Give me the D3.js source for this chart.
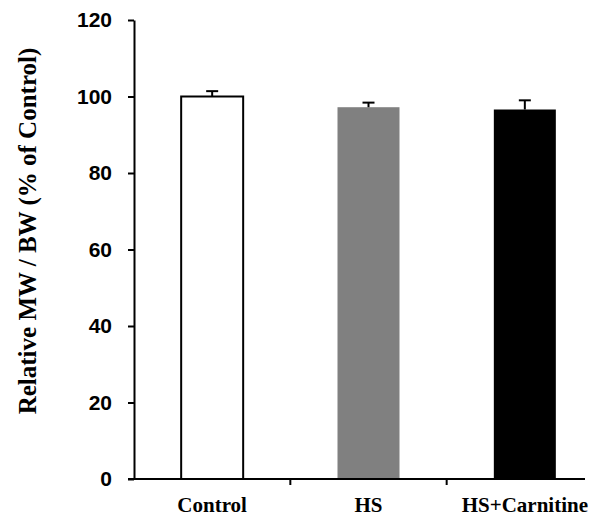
<!DOCTYPE html>
<html>
<head>
<meta charset="utf-8">
<script src="https://cdn.jsdelivr.net/npm/d3@7"></script>
<style>
  body { margin: 0; background: #fff; }
  .tick-label { font-family: "Liberation Sans", Arial, sans-serif; font-weight: bold; font-size: 21px; }
  .cat-label { font-family: "Liberation Serif", "Times New Roman", serif; font-weight: bold; font-size: 21px; }
</style>
</head>
<body>
<svg id="chart" width="601" height="522"></svg>
<script>
var categories = ["Control", "HS", "HS+Carnitine"];
var values = [100, 97.2, 96.6];
var errors = [1.4, 1.2, 2.4];
var fills = ["#ffffff", "#808080", "#000000"];
var yTicks = [0, 20, 40, 60, 80, 100, 120];

var svg = d3.select("#chart");

var x0 = 134, x1 = 603, yBottom = 479, yTop = 20;

var x = d3.scaleBand()
  .domain(categories)
  .range([x0, x1])
  .paddingInner(0)
  .paddingOuter(0);

var y = d3.scaleLinear()
  .domain([0, 120])
  .range([yBottom, yTop]);

var barW = 62;

// bars
svg.selectAll(".bar")
  .data(categories)
  .enter()
  .append("rect")
  .attr("class", "bar")
  .attr("x", function(d) {return x(d) + x.bandwidth()/2 - barW/2;})
  .attr("y", function(d, i) {return y(values[i]);})
  .attr("width", barW)
  .attr("height", function(d, i) {return yBottom - y(values[i]);})
  .style("fill", function(d, i) {return fills[i];})
  .style("stroke", function(d, i) {return i == 0 ? "#000" : "none";})
  .style("stroke-width", 2);

// error bars (upper only)
var err = svg.selectAll(".err")
  .data(categories)
  .enter()
  .append("g")
  .attr("class", "err")
  .style("stroke", "#000")
  .style("stroke-width", 2);

err.append("line")
  .attr("x1", function(d) {return x(d) + x.bandwidth()/2;})
  .attr("x2", function(d) {return x(d) + x.bandwidth()/2;})
  .attr("y1", function(d, i) {return y(values[i]);})
  .attr("y2", function(d, i) {return y(values[i] + errors[i]);});

err.append("line")
  .attr("x1", function(d) {return x(d) + x.bandwidth()/2 - 6;})
  .attr("x2", function(d) {return x(d) + x.bandwidth()/2 + 6;})
  .attr("y1", function(d, i) {return y(values[i] + errors[i]);})
  .attr("y2", function(d, i) {return y(values[i] + errors[i]);});

// y axis
var yAxis = svg.append("g")
  .attr("transform", "translate(" + x0 + ",0)")
  .call(d3.axisLeft(y).tickValues(yTicks).tickSize(6).tickSizeOuter(0).tickPadding(16));
yAxis.select(".domain").attr("stroke-width", 2);
yAxis.selectAll(".tick line").attr("stroke-width", 2);
yAxis.selectAll(".tick text")
  .attr("class", "tick-label")
  .attr("fill", "#000")
  .attr("font-family", null)
  .attr("font-size", null);

// x axis: line with ticks at category boundaries
svg.append("line")
  .attr("x1", x0 - 6)
  .attr("x2", x1 - 18)
  .attr("y1", yBottom)
  .attr("y2", yBottom)
  .style("stroke", "#000")
  .style("stroke-width", 2);

svg.selectAll(".xsep")
  .data(categories.slice(1))
  .enter()
  .append("line")
  .attr("class", "xsep")
  .attr("x1", function(d) {return x(d);})
  .attr("x2", function(d) {return x(d);})
  .attr("y1", yBottom)
  .attr("y2", yBottom + 6)
  .style("stroke", "#000")
  .style("stroke-width", 2);

svg.selectAll(".cat-label")
  .data(categories)
  .enter()
  .append("text")
  .attr("class", "cat-label")
  .attr("x", function(d) {return x(d) + x.bandwidth()/2;})
  .attr("y", 512)
  .attr("text-anchor", "middle")
  .text(function(d) {return d;});

// y axis title
svg.append("text")
  .attr("class", "cat-label")
  .attr("transform", "translate(36,231) rotate(-90)")
  .attr("text-anchor", "middle")
  .style("font-size", "25px")
  .text("Relative MW / BW (% of Control)");
</script>
</body>
</html>
